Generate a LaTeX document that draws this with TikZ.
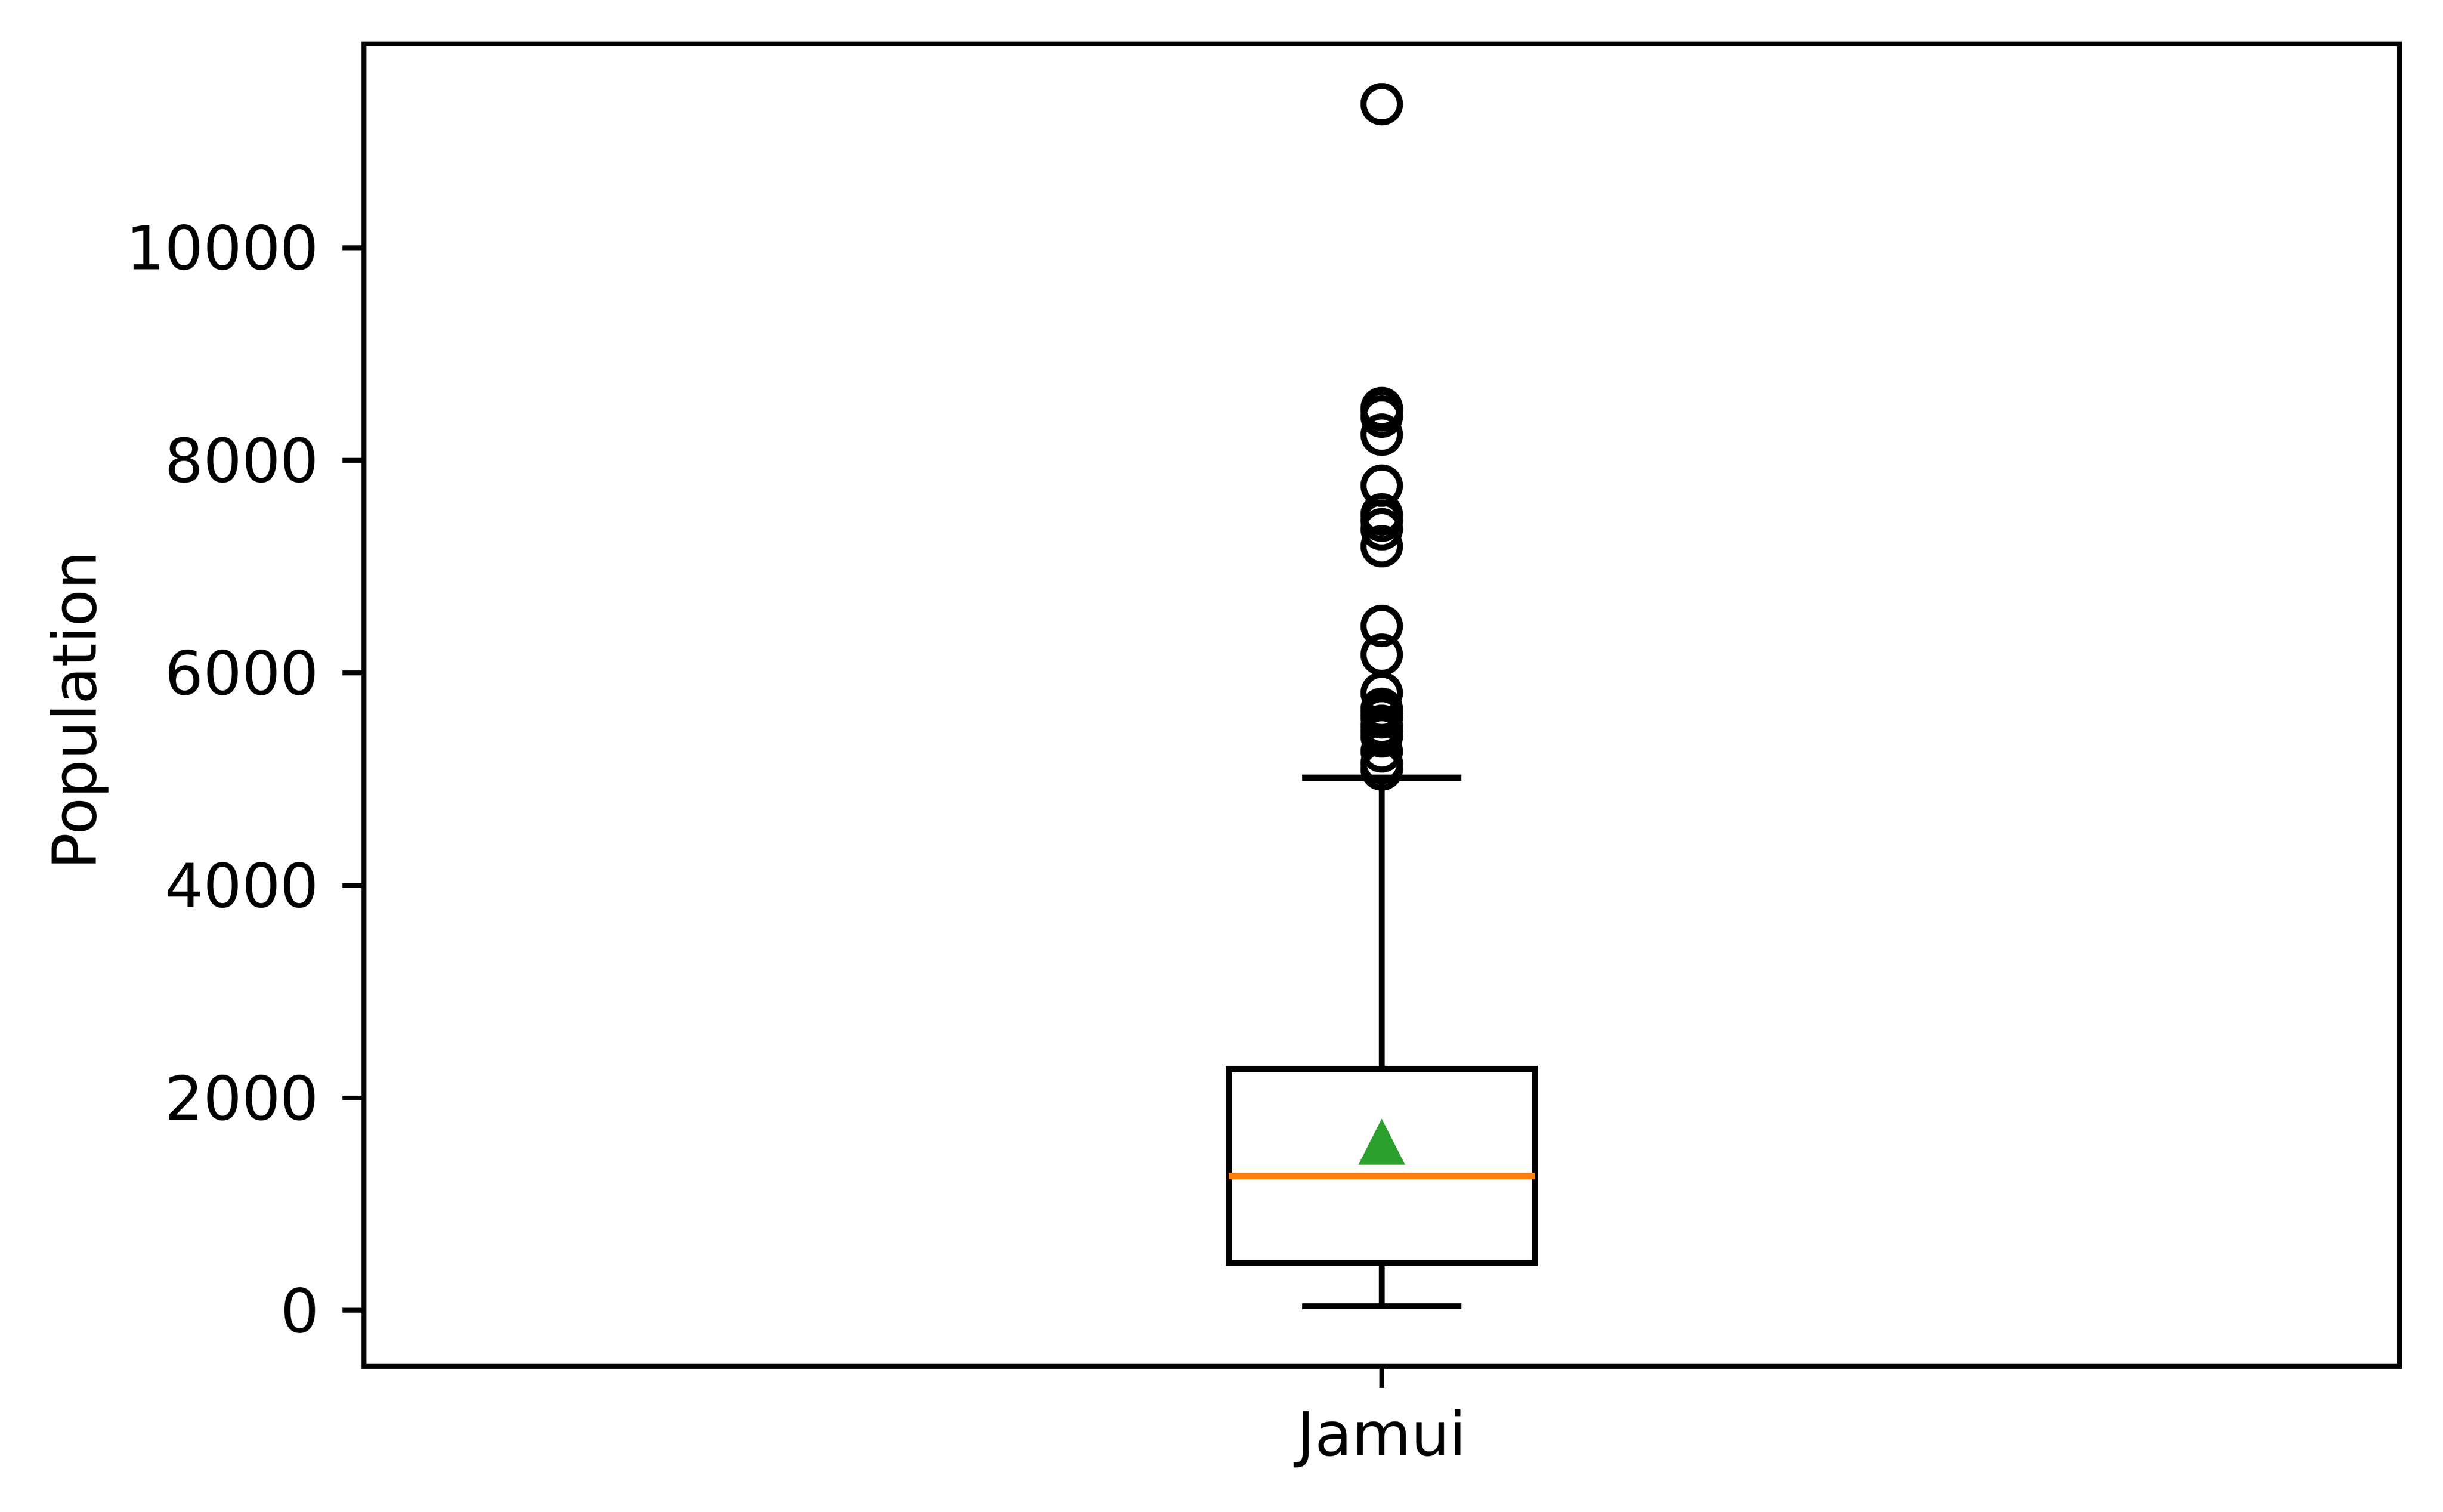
\documentclass[tikz,border=0pt]{standalone}
\usepackage{fontspec}
\setmainfont{DejaVu Sans}
\definecolor{medorange}{HTML}{FF7F0E}
\definecolor{meangreen}{HTML}{2CA02C}
\begin{document}
\begin{tikzpicture}[x=1cm,y=0.61633cm,
  every node/.style={font=\fontsize{10}{12}\selectfont,inner sep=0pt},
  boxline/.style={line width=1pt,black},
  outlier/.style={line width=1pt,black},
  tickline/.style={line width=0.8pt,black}]
\useasboundingbox (-2.1107,-1.8957) rectangle (12.0599,12.3305);
% frame and ticks
\draw[tickline] (0,-0.5275) rectangle (11.8085,11.9184);
\foreach \y/\lab in {0/0,2/2000,4/4000,6/6000,8/8000,10/10000}
  \draw[tickline] (0,\y) -- ++(-3.5pt,0) node[left=3.5pt] (tick\y) {\lab};
\draw[tickline] (5.904,-0.5275) -- ++(0,-3.5pt);
\node[anchor=base] (xlab) at (5.904,-1.3641) {Jamui};
\node[rotate=90,anchor=base] (ylab) at (-1.5545,5.646) {Population};
% box and whiskers
\draw[boxline] (5.0175,0.445) rectangle (6.7905,2.272);
\draw[boxline] (5.904,0.445) -- (5.904,0.04);
\draw[boxline] (5.443,0.04) -- (6.365,0.04);
\draw[boxline] (5.904,2.272) -- (5.904,5.011);
\draw[boxline] (5.443,5.011) -- (6.365,5.011);
\draw[line width=1pt,medorange] (5.0175,1.265) -- (6.7905,1.265);
% outliers
\foreach \v in {5.09,5.15,5.26,5.40,5.45,5.50,5.58,5.62,5.66,5.81,6.17,6.44,7.19,7.35,7.43,7.49,7.76,8.24,8.41,8.47,8.49,11.35}
  \draw[outlier] (5.904,\v) circle (3pt);
% mean
\fill[meangreen] (5.904,1.587) ++(0,3.8pt) -- ++(-3.85pt,-7.6pt) -- ++(7.7pt,0) -- cycle;
\end{tikzpicture}
\end{document}
